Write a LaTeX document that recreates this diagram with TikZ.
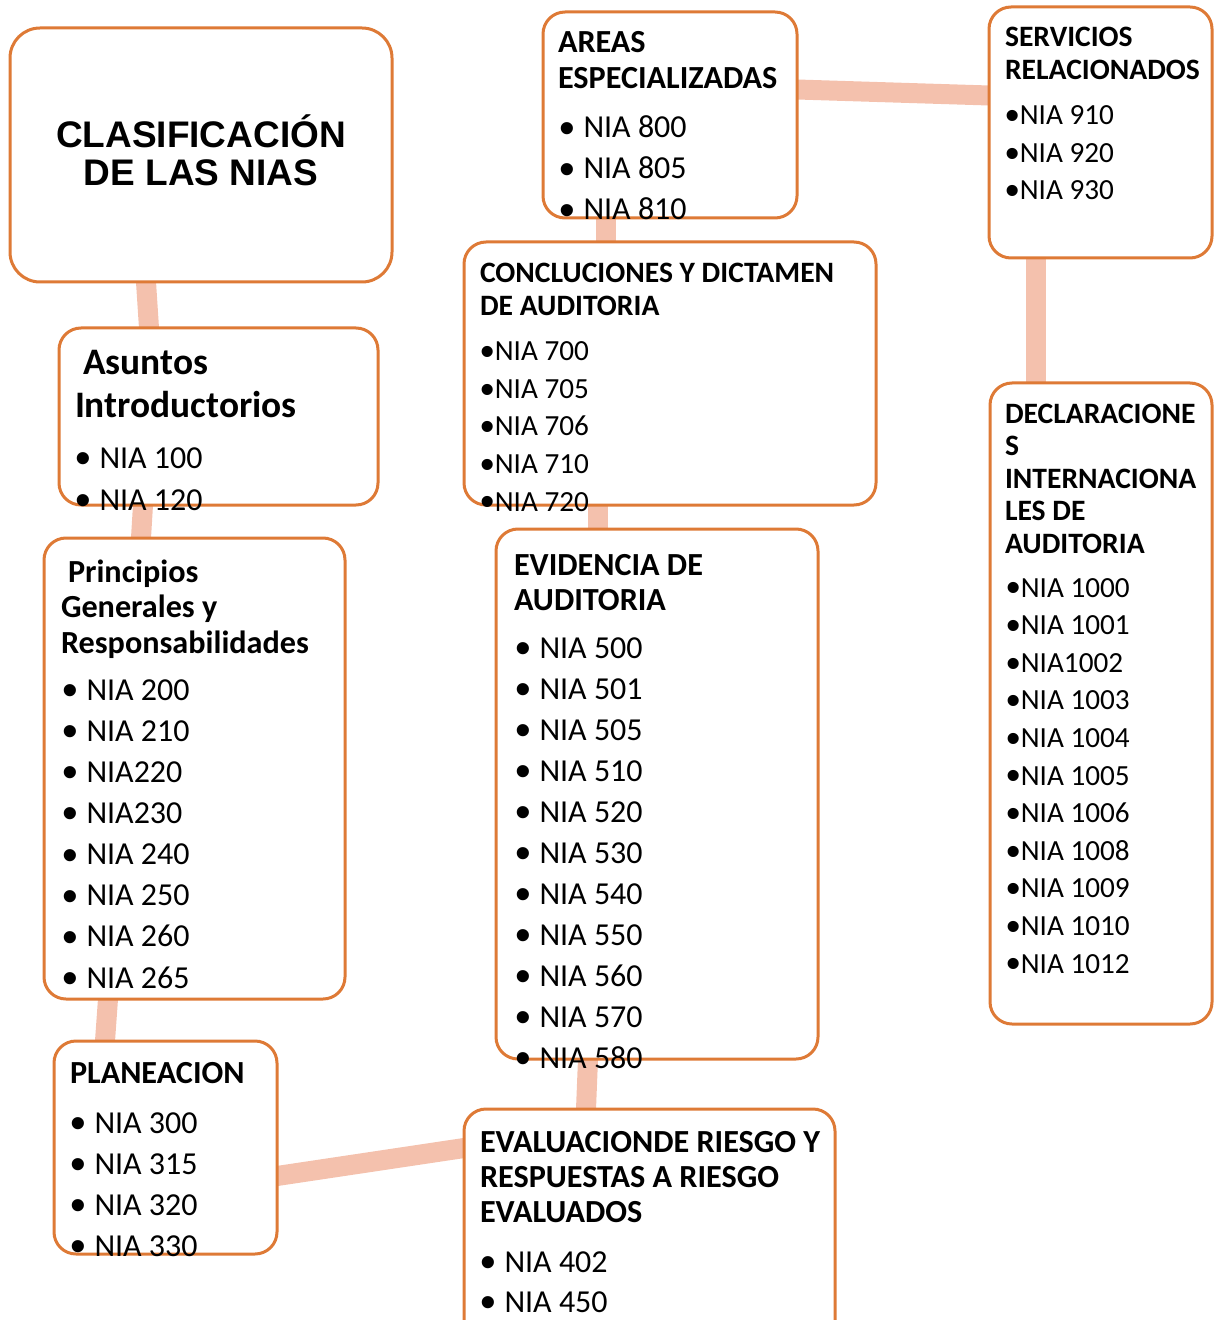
\documentclass[tikz,border=0pt]{standalone}
\usepackage{fontspec}
\setmainfont{Carlito}
\newfontfamily\arialf{Liberation Sans}
\usetikzlibrary{fit,calc}
\definecolor{borde}{RGB}{222,122,54}
\definecolor{enlace}{RGB}{244,193,173}
\pgfdeclarelayer{bg}
\pgfsetlayers{bg,main}
\tikzset{
  box/.style={draw=borde, line width=1.5pt, fill=white, rounded corners=11pt, inner sep=0pt, outer sep=0pt},
  conn/.style={draw=enlace, line width=10pt, line cap=butt, shorten <=-4pt, shorten >=-4pt},
  txt/.style={inner sep=0pt, outer sep=0pt, anchor=base west},
  ttl/.style={inner sep=0pt, outer sep=0pt, anchor=base, font=\arialf\bfseries\fontsize{18.5}{22}\selectfont},
  hL/.style={txt, font=\bfseries\fontsize{16.1}{19}\selectfont},
  hS/.style={txt, font=\bfseries\fontsize{14.8}{17}\selectfont},
  hA/.style={txt, font=\bfseries\fontsize{18.7}{22}\selectfont},
  itL/.style={txt, font=\fontsize{16}{19}\selectfont},
  itS/.style={txt, font=\fontsize{14.6}{17}\selectfont},
}
\newcommand\bigbul{\smash{\hspace*{-0.02em}\raisebox{-0.17em}{\scalebox{1.4}{\arialf •}}}}
\newcommand\itemlist[7]{%
  \foreach \itm [count=\i] in {#7} {%
    \node[#1] (#2-\i) at (#3,{#4+(\i-1)*#5}) {\makebox[#6][l]{\bigbul}\itm};}}
\begin{document}
\begin{tikzpicture}[x=0.5pt,y=-0.5pt]
\useasboundingbox (0,0) rectangle (1214,1320);
% boxes
\node[box, rounded corners=15pt, fit={(10,28)(392,282)}] (title) {};
\node[box, fit={(59,328)(378,505)}] (asun) {};
\node[box, fit={(44,538)(345,999)}] (prin) {};
\node[box, fit={(54,1041)(277,1254)}] (plan) {};
\node[box, fit={(464,1109)(835,1345)}] (eval) {};
\node[box, fit={(496,529)(818,1059)}] (evid) {};
\node[box, fit={(464,242)(876,505)}] (concl) {};
\node[box, fit={(543,12)(797,218)}] (areas) {};
\node[box, fit={(989,7)(1212,258)}] (serv) {};
\node[box, fit={(990,383)(1212,1024)}] (decl) {};
% connectors
\begin{pgfonlayer}{bg}
\draw[conn] ($(title.south west)+(136,0)$) -- ($(asun.north west)+(90,0)$);
\draw[conn] ($(asun.south west)+(84,0)$) -- ($(prin.north west)+(97,0)$);
\draw[conn] ($(prin.south west)+(64,0)$) -- ($(plan.north west)+(51,0)$);
\draw[conn] ($(plan.north east)+(0,135)$) -- ($(eval.north west)+(0,39)$);
\draw[conn] ($(eval.north west)+(122,0)$) -- ($(evid.south west)+(92,0)$);
\draw[conn] ($(evid.north west)+(102,0)$) -- ($(concl.south west)+(134,0)$);
\draw[conn] ($(concl.north west)+(142,0)$) -- ($(areas.south west)+(63,0)$);
\draw[conn] ($(areas.north east)+(0,77.5)$) -- ($(serv.north west)+(0,88.5)$);
\draw[conn] ($(serv.south west)+(46.5,0)$) -- ($(decl.north west)+(45.5,0)$);
\end{pgfonlayer}
% title
\node[ttl] (title-1) at (201,148) {CLASIFICACIÓN};
\node[ttl] (title-2) at (201,186) {DE LAS NIAS};
% areas
\node[hL] (areas-h1) at (558,53) {AREAS};
\node[hL] (areas-h2) at (558,89) {ESPECIALIZADAS};
\itemlist{itL}{areas}{560}{138}{41}{11.75pt}{NIA 800,NIA 805,NIA 810}
% servicios
\node[hS] (serv-h1) at (1005,47) {SERVICIOS};
\node[hS] (serv-h2) at (1005,80) {RELACIONADOS};
\itemlist{itS}{serv}{1006}{125}{37.5}{6.9pt}{NIA 910,NIA 920,NIA 930}
% concluciones
\node[hS] (concl-h1) at (480,283) {CONCLUCIONES Y DICTAMEN};
\node[hS] (concl-h2) at (480,316) {DE AUDITORIA};
\itemlist{itS}{concl}{481}{361}{37.5}{6.9pt}{NIA 700,NIA 705,NIA 706,NIA 710,NIA 720}
% declaraciones
\node[hS] (decl-h1) at (1005,423) {DECLARACIONE};
\node[hS] (decl-h2) at (1005,455.5) {S};
\node[hS] (decl-h3) at (1005,488) {INTERNACIONA};
\node[hS] (decl-h4) at (1005,520.5) {LES DE};
\node[hS] (decl-h5) at (1005,553) {AUDITORIA};
\itemlist{itS}{decl}{1007}{597}{37.6}{6.9pt}{NIA 1000,NIA 1001,NIA1002,NIA 1003,NIA 1004,NIA 1005,NIA 1006,NIA 1008,NIA 1009,NIA 1010,NIA 1012}
% asuntos
\node[hA] (asun-h1) at (83,375) {Asuntos};
\node[hA] (asun-h2) at (75,417) {Introductorios};
\itemlist{itL}{asun}{76}{468}{42}{11.75pt}{NIA 100,NIA 120}
% principios
\node[hL] (prin-h1) at (68,582) {Principios};
\node[hL] (prin-h2) at (61,617) {Generales y};
\node[hL] (prin-h3) at (61,653) {Responsabilidades};
\itemlist{itL}{prin}{63}{700}{41.15}{11.75pt}{NIA 200,NIA 210,NIA220,NIA230,NIA 240,NIA 250,NIA 260,NIA 265}
% evidencia
\node[hL] (evid-h1) at (514,575) {EVIDENCIA DE};
\node[hL] (evid-h2) at (514,610) {AUDITORIA};
\itemlist{itL}{evid}{516}{658}{41}{11.75pt}{NIA 500,NIA 501,NIA 505,NIA 510,NIA 520,NIA 530,NIA 540,NIA 550,NIA 560,NIA 570,NIA 580}
% planeacion
\node[hL] (plan-h1) at (70,1083) {PLANEACION};
\itemlist{itL}{plan}{71}{1133}{41}{11.75pt}{NIA 300,NIA 315,NIA 320,NIA 330}
% evaluacion
\node[hL] (eval-h1) at (480,1152) {EVALUACIONDE RIESGO Y};
\node[hL] (eval-h2) at (480,1187) {RESPUESTAS A RIESGO};
\node[hL] (eval-h3) at (480,1222) {EVALUADOS};
\itemlist{itL}{eval}{481}{1272}{40}{11.75pt}{NIA 402,NIA 450}
\end{tikzpicture}
\end{document}
